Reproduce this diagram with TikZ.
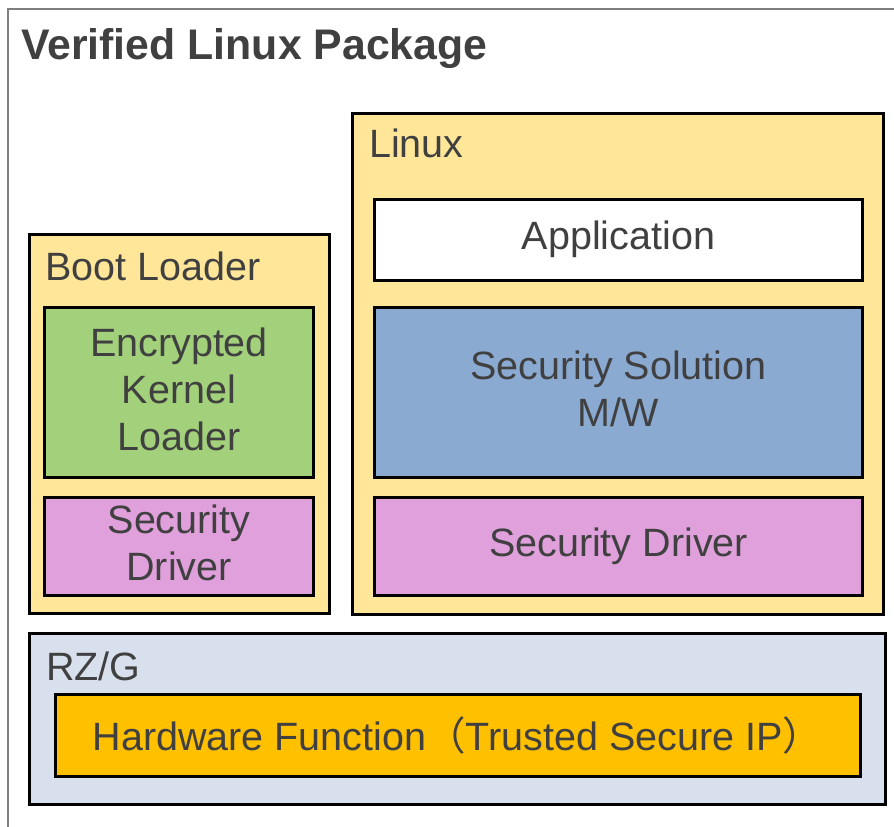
\documentclass[tikz,border=0pt]{standalone}
\usepackage{fontspec}
\setmainfont{Liberation Sans}
\newfontfamily\cjkfont{Noto Sans CJK JP}
\usetikzlibrary{positioning}
\definecolor{vlInk}{HTML}{404040}
\definecolor{vlFrame}{HTML}{7F7F7F}
\definecolor{vlSand}{HTML}{FFE699}
\definecolor{vlGreen}{HTML}{A3D17B}
\definecolor{vlPlum}{HTML}{E0A0DC}
\definecolor{vlBlue}{HTML}{8BAAD2}
\definecolor{vlMist}{HTML}{D7E0EC}
\definecolor{vlAmber}{HTML}{FFC000}
\tikzset{
 stack/.style={line join=miter,text=vlInk},
 layer/.style={draw=black,line width=3pt,anchor=north west,inner sep=0pt},
 block/.style={layer,align=center,font=\fontsize{39.5}{47}\selectfont},
 multi/.style={block,text depth=6pt},
 tag/.style={anchor=base west,inner sep=0pt,font=\fontsize{39.5}{47}\selectfont},
 headline/.style={anchor=base west,inner sep=0pt,font=\bfseries\fontsize{42.8}{48}\selectfont},
 frame/.style={draw=vlFrame,line width=2pt}
}
\newcommand{\wparen}[1]{{\cjkfont #1}}

\begin{document}
\begin{tikzpicture}[stack,x=1pt,y=-1pt]
 \useasboundingbox (0,0) rectangle (894,827);
 % outer package frame, cut by the page
 \coordinate (pkgSW) at (8,830);
 \coordinate (pkgNW) at (8,9);
 \coordinate (pkgNE) at (897,9);
 \draw[frame] (pkgSW)--(pkgNW)--(pkgNE);
 \node[headline] (title) at (21,59) {Verified Linux Package};
 % boot loader
 \node[layer,fill=vlSand,minimum width=300pt,minimum height=379pt] (boot) at (27.5,233) {};
 \node[tag] (bootTag) at (45,280) {Boot Loader};
 \node[multi,fill=vlGreen,minimum width=269pt,minimum height=170pt] (ekl) at (43,305.5) {Encrypted\\Kernel\\Loader};
 \node[multi,fill=vlPlum,minimum width=269pt,minimum height=98pt] (drvL) at (43,495.5) {Security\\Driver};
 % linux
 \node[layer,fill=vlSand,minimum width=531pt,minimum height=501pt] (linux) at (351,111.5) {};
 \node[tag] (linuxTag) at (369,157) {Linux};
 \node[block,fill=white,minimum width=488pt,minimum height=81pt] (app) at (373,197.5) {Application};
 \node[multi,fill=vlBlue,minimum width=488pt,minimum height=170pt] (mw) at (373,305.5) {Security Solution\\M/W};
 \node[block,fill=vlPlum,minimum width=488pt,minimum height=98pt] (drvR) at (373,495.5) {Security Driver};
 % soc
 \node[layer,fill=vlMist,minimum width=856pt,minimum height=171pt] (soc) at (27.5,632) {};
 \node[tag] (socTag) at (46,680) {RZ/G};
 \node[block,fill=vlAmber,minimum width=805pt,minimum height=82pt] (hw) at (53.5,693)
  {Hardware Function\wparen{（}Trusted Secure IP\wparen{）}};
\end{tikzpicture}
\end{document}
